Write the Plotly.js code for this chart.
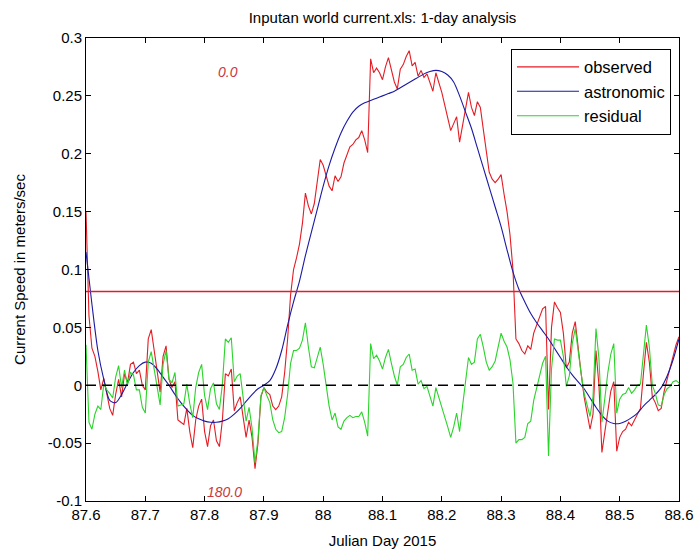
<!DOCTYPE html>
<html>
<head>
<meta charset="utf-8">
<script src="https://cdn.plot.ly/plotly-3.0.1.min.js"></script>
<style>
  html, body { margin: 0; padding: 0; background: #ffffff; }
  #chart { width: 696px; height: 557px; }
</style>
</head>
<body>
<div id="chart"></div>
<script>
// ---- data ----
const startDay = 87.6;          // first Julian day sample
const obsStep = 0.005;          // sampling step of observed / residual (days)
const astroStep = 0.01;         // sampling step of astronomic (days)

const observed = [
  0.150, 0.060, 0.032, 0.025, 0.012, -0.004, 0.006, -0.008, -0.020, -0.026,
  -0.008, 0.005, -0.010, 0.010, 0.002, 0.018, 0.020, 0.010, 0.013, 0.000,
  -0.004, 0.040, 0.048, 0.030, 0.012, -0.006, 0.025, 0.034, 0.005, -0.002,
  0.003, -0.030, -0.032, -0.034, -0.020, -0.040, -0.054, -0.030, -0.018, -0.012,
  -0.040, -0.053, -0.035, -0.030, -0.048, -0.053, -0.030, 0.010, 0.008, 0.014,
  -0.022, -0.015, -0.010, -0.028, -0.045, -0.030, -0.045, -0.072, -0.050, -0.010,
  -0.002, -0.006, -0.008, -0.018, -0.021, -0.018, -0.010, 0.011, 0.040, 0.078,
  0.100, 0.110, 0.122, 0.140, 0.166, 0.155, 0.148, 0.157, 0.175, 0.195,
  0.190, 0.182, 0.172, 0.168, 0.181, 0.176, 0.180, 0.192, 0.200, 0.206,
  0.208, 0.212, 0.214, 0.220, 0.212, 0.201, 0.282, 0.270, 0.274, 0.270,
  0.264, 0.275, 0.283, 0.272, 0.262, 0.256, 0.273, 0.277, 0.284, 0.289,
  0.276, 0.279, 0.267, 0.272, 0.266, 0.269, 0.262, 0.254, 0.270, 0.262,
  0.253, 0.242, 0.232, 0.220, 0.226, 0.232, 0.210, 0.225, 0.240, 0.253,
  0.240, 0.233, 0.245, 0.240, 0.221, 0.200, 0.184, 0.178, 0.175, 0.178,
  0.182, 0.165, 0.150, 0.130, 0.100, 0.040, 0.036, 0.030, 0.027, 0.034,
  0.031, 0.045, 0.052, 0.058, 0.066, 0.068, -0.021, 0.050, 0.072, 0.067,
  0.063, 0.045, 0.015, 0.020, 0.045, 0.055, 0.030, 0.010, -0.010, -0.025,
  -0.038, -0.025, 0.030, 0.000, -0.058, -0.040, -0.020, -0.005, 0.003, -0.057,
  -0.045, -0.040, -0.038, -0.032, -0.035, -0.030, -0.024, -0.020, 0.010, 0.037,
  0.020, -0.010, -0.015, -0.022, -0.020, -0.005, 0.005, 0.014, 0.025, 0.035,
  0.042
];

const residual = [
  0.035, -0.032, -0.038, -0.025, -0.018, -0.021, 0.001, -0.004, -0.007, -0.011,
  0.007, 0.017, -0.002, 0.013, 0.000, 0.011, 0.009, -0.004, -0.004, -0.019,
  -0.024, 0.020, 0.029, 0.013, -0.002, -0.017, 0.018, 0.030, 0.005, 0.002,
  0.011, -0.018, -0.017, -0.016, 0.001, -0.016, -0.028, -0.002, 0.011, 0.018,
  -0.009, -0.021, -0.003, 0.002, -0.016, -0.021, 0.001, 0.040, 0.037, 0.041,
  0.003, 0.008, 0.010, -0.011, -0.031, -0.019, -0.037, -0.067, -0.047, -0.009,
  -0.002, -0.009, -0.015, -0.030, -0.038, -0.041, -0.040, -0.028, -0.008, 0.019,
  0.030, 0.030, 0.032, 0.039, 0.054, 0.033, 0.016, 0.015, 0.023, 0.033,
  0.018, 0.001, -0.018, -0.030, -0.024, -0.036, -0.038, -0.031, -0.028, -0.026,
  -0.028, -0.027, -0.027, -0.023, -0.032, -0.044, 0.036, 0.023, 0.026, 0.021,
  0.014, 0.024, 0.031, 0.019, 0.008, 0.000, 0.016, 0.018, 0.024, 0.027,
  0.013, 0.014, 0.001, 0.004, -0.003, -0.001, -0.009, -0.018, -0.002, -0.010,
  -0.018, -0.028, -0.036, -0.045, -0.036, -0.024, -0.040, -0.018, 0.004, 0.024,
  0.018, 0.020, 0.040, 0.044, 0.033, 0.020, 0.013, 0.016, 0.021, 0.032,
  0.045, 0.038, 0.033, 0.022, 0.002, -0.050, -0.047, -0.047, -0.045, -0.033,
  -0.031, -0.013, -0.002, 0.008, 0.019, 0.025, -0.061, 0.014, 0.040, 0.039,
  0.039, 0.025, -0.001, 0.008, 0.036, 0.049, 0.027, 0.010, -0.007, -0.018,
  -0.027, -0.010, 0.049, 0.023, -0.032, -0.011, 0.011, 0.027, 0.036, -0.024,
  -0.012, -0.008, -0.007, -0.002, -0.007, -0.004, 0.000, 0.001, 0.028, 0.052,
  0.033, 0.000, -0.007, -0.017, -0.018, -0.008, -0.003, -0.001, 0.003, 0.004,
  0.002
];

const astronomic = [
  0.115, 0.070, 0.030, 0.005, -0.013, -0.015, -0.008, 0.002, 0.011, 0.017,
  0.020, 0.019, 0.014, 0.007, 0.000, -0.008, -0.015, -0.021, -0.026, -0.029,
  -0.031, -0.032, -0.032, -0.031, -0.029, -0.025, -0.020, -0.014, -0.008, -0.003,
  0.000, 0.004, 0.014, 0.030, 0.052, 0.072, 0.090, 0.112, 0.132, 0.152,
  0.172, 0.190, 0.205, 0.218, 0.228, 0.236, 0.241, 0.244, 0.246, 0.248,
  0.250, 0.252, 0.254, 0.257, 0.260, 0.263, 0.266, 0.269, 0.271, 0.272,
  0.271, 0.268, 0.262, 0.250, 0.236, 0.222, 0.205, 0.188, 0.171, 0.154,
  0.137, 0.117, 0.098, 0.083, 0.072, 0.062, 0.054, 0.047, 0.040, 0.032,
  0.024, 0.016, 0.009, 0.003, -0.003, -0.011, -0.019, -0.026, -0.031, -0.033,
  -0.033, -0.031, -0.028, -0.024, -0.018, -0.013, -0.008, -0.002, 0.008, 0.022,
  0.040
];

const meanSpeed = 0.081;        // red horizontal reference line
const xRange = [87.6, 88.6];
const yRange = [-0.1, 0.3];

const xTickVals = [87.6, 87.7, 87.8, 87.9, 88.0, 88.1, 88.2, 88.3, 88.4, 88.5, 88.6];
const xTickText = ["87.6", "87.7", "87.8", "87.9", "88", "88.1", "88.2", "88.3", "88.4", "88.5", "88.6"];
const yTickVals = [-0.1, -0.05, 0, 0.05, 0.1, 0.15, 0.2, 0.25, 0.3];
const yTickText = ["-0.1", "-0.05", "0", "0.05", "0.1", "0.15", "0.2", "0.25", "0.3"];

const seriesNames = ["observed", "astronomic", "residual"];
const phaseLabels = ["0.0", "180.0"];
const phaseX = [87.839, 87.834];
const phaseY = [0.271, -0.092];

// ---- build traces ----
const xObs = observed.map((_, i) => +(startDay + i * obsStep).toFixed(3));
const xAstro = astronomic.map((_, i) => +(startDay + i * astroStep).toFixed(3));

const RED = "#e41c24", BLUE = "#1a1aa4", GREEN = "#2ad42a";
const FONT = "Liberation Sans, Arial, sans-serif";

const traces = [
  { x: xObs, y: observed, name: seriesNames[0], type: "scatter", mode: "lines",
    line: { color: RED, width: 1.1 }, legendgroup: "a" },
  { x: xAstro, y: astronomic, name: seriesNames[1], type: "scatter", mode: "lines",
    line: { color: BLUE, width: 1.1, shape: "spline", smoothing: 0.8 }, legendgroup: "b" },
  { x: xObs, y: residual, name: seriesNames[2], type: "scatter", mode: "lines",
    line: { color: GREEN, width: 1.1 }, legendgroup: "c" },
  { x: xRange, y: [meanSpeed, meanSpeed], type: "scatter", mode: "lines",
    line: { color: RED, width: 1.4 }, showlegend: false, hoverinfo: "skip" },
  { x: xRange, y: [0, 0], type: "scatter", mode: "lines",
    line: { color: "#000000", width: 1.4, dash: "10px,6px" }, showlegend: false, hoverinfo: "skip" }
];

const axisCommon = {
  showline: true, linecolor: "#000000", linewidth: 1, mirror: "ticks",
  ticks: "inside", ticklen: 5, tickcolor: "#000000", tickwidth: 1,
  showgrid: false, zeroline: false,
  tickfont: { family: FONT, size: 15, color: "#000000" }
};

const layout = {
  width: 696, height: 557,
  margin: { l: 86, r: 17, t: 38, b: 56, pad: 0 },
  paper_bgcolor: "#ffffff", plot_bgcolor: "#ffffff",
  showlegend: true,
  title: { text: "Inputan world current.xls: 1-day analysis",
    font: { family: FONT, size: 15, color: "#000000" },
    x: 0.5496, xanchor: "center", y: 0.968, yanchor: "middle" },
  xaxis: Object.assign({}, axisCommon, {
    range: xRange, tickmode: "array", tickvals: xTickVals, ticktext: xTickText,
    title: { text: "Julian Day 2015", font: { family: FONT, size: 15, color: "#000000" }, standoff: 13 }
  }),
  yaxis: Object.assign({}, axisCommon, {
    range: yRange, tickmode: "array", tickvals: yTickVals, ticktext: yTickText,
    title: { text: "Current Speed in meters/sec", font: { family: FONT, size: 15, color: "#000000" }, standoff: 18 }
  }),
  legend: {
    x: 0.9865, xanchor: "right", y: 0.977, yanchor: "top",
    bgcolor: "#ffffff", bordercolor: "#000000", borderwidth: 1,
    font: { family: FONT, size: 16.5, color: "#000000" },
    tracegroupgap: 0, itemwidth: 62
  },
  annotations: phaseLabels.map((t, i) => ({
    x: phaseX[i], y: phaseY[i], xref: "x", yref: "y", text: t, showarrow: false,
    font: { family: FONT, size: 14, color: "#c83840", style: "italic" },
    xanchor: "center", yanchor: "middle"
  }))
};

Plotly.newPlot("chart", traces, layout, { staticPlot: true, displayModeBar: false });
</script>
</body>
</html>
